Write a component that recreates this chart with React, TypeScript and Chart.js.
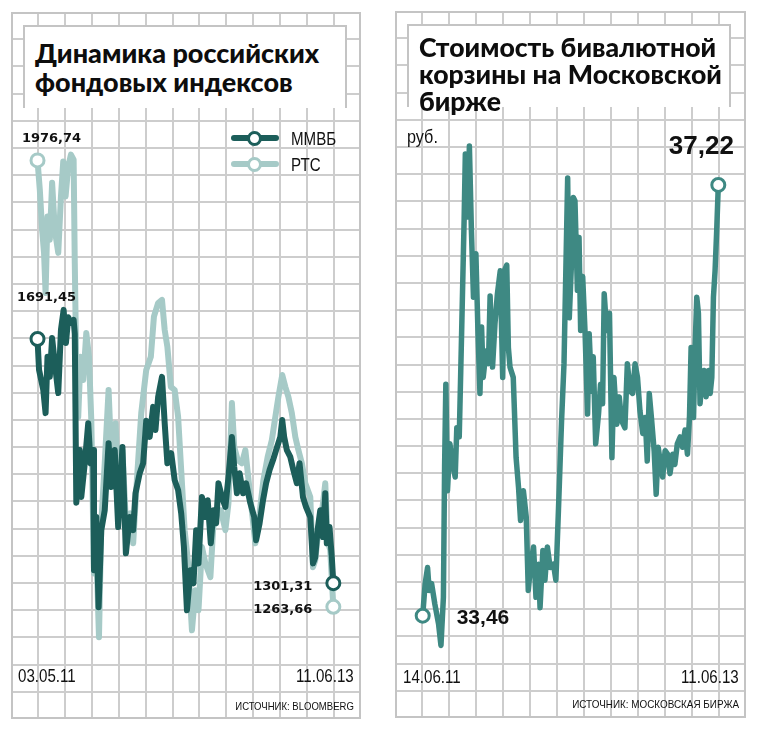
import { useEffect, useRef } from "react";
import { Chart, registerables } from "chart.js";

Chart.register(...registerables);

// Индексы: день от 03.05.11, значение
const mmvbDays = [0, 4, 15, 21, 26, 32, 38, 45, 54, 61, 68, 74, 80, 87, 94, 97, 101, 110, 114, 123, 132, 138, 145, 147, 153, 159, 166, 175, 185, 192, 201, 210, 221, 230, 240, 249, 255, 266, 275, 283, 292, 301, 307, 314, 324, 331, 338, 348, 357, 366, 374, 381, 389, 398, 406, 413, 419, 428, 437, 443, 451, 458, 465, 471, 480, 489, 497, 506, 512, 519, 526, 535, 543, 554, 564, 569, 578, 587, 595, 604, 613, 621, 632, 637, 642, 649, 658, 666, 675, 682, 691, 699, 710, 717, 723, 729, 736, 743, 749, 753, 760, 766, 770];
const mmvbValues = [1691.45, 1642, 1610, 1573, 1663, 1631, 1693, 1653, 1605, 1706, 1738, 1685, 1726, 1717, 1722, 1700, 1430, 1514, 1439, 1493, 1557, 1493, 1514, 1322, 1407, 1263, 1386, 1418, 1525, 1455, 1514, 1391, 1519, 1349, 1407, 1386, 1445, 1477, 1493, 1561, 1535, 1583, 1546, 1599, 1631, 1557, 1493, 1509, 1466, 1450, 1413, 1360, 1258, 1322, 1301, 1386, 1333, 1439, 1407, 1434, 1365, 1418, 1397, 1461, 1439, 1423, 1471, 1535, 1487, 1445, 1477, 1445, 1461, 1429, 1407, 1370, 1397, 1434, 1461, 1482, 1498, 1514, 1535, 1562, 1535, 1514, 1503, 1482, 1461, 1493, 1439, 1423, 1407, 1333, 1343, 1386, 1418, 1375, 1445, 1365, 1391, 1343, 1301.31];

const rtsDays = [0, 6, 12, 17, 21, 26, 32, 38, 45, 54, 61, 67, 73, 80, 87, 94, 97, 101, 106, 112, 119, 127, 134, 140, 147, 153, 160, 166, 175, 185, 192, 203, 210, 221, 231, 242, 249, 257, 270, 283, 295, 303, 314, 324, 331, 338, 347, 357, 366, 374, 383, 392, 402, 411, 419, 428, 437, 450, 458, 467, 477, 489, 497, 506, 512, 521, 532, 541, 554, 567, 578, 588, 599, 610, 619, 627, 637, 645, 653, 662, 671, 679, 688, 697, 710, 717, 723, 731, 740, 749, 755, 762, 770];
const rtsValues = [1976.74, 1930, 1866, 1829, 1765, 1887, 1850, 1941, 1866, 1829, 1919, 1975, 1919, 1967, 1986, 1978, 1813, 1642, 1567, 1663, 1626, 1701, 1663, 1562, 1317, 1359, 1215, 1397, 1493, 1610, 1503, 1557, 1466, 1514, 1386, 1413, 1365, 1450, 1573, 1642, 1663, 1727, 1749, 1754, 1706, 1679, 1615, 1610, 1567, 1482, 1386, 1333, 1226, 1290, 1258, 1359, 1333, 1311, 1397, 1418, 1418, 1386, 1429, 1589, 1519, 1498, 1493, 1514, 1439, 1365, 1413, 1466, 1503, 1530, 1567, 1599, 1634, 1615, 1599, 1573, 1535, 1514, 1493, 1461, 1439, 1327, 1338, 1386, 1413, 1461, 1370, 1354, 1263.66];

// Бивалютная корзина: день от 14.06.11, руб.
const basketDays = [0, 6, 12, 16, 22, 30, 39, 45, 51, 54, 57, 61, 67, 74, 80, 84, 90, 96, 102, 105, 110, 115, 120, 125, 131, 136, 141, 145, 149, 156, 162, 166, 172, 178, 184, 191, 197, 201, 207, 211, 215, 223, 230, 236, 241, 248, 255, 260, 266, 273, 279, 285, 289, 296, 301, 307, 314, 322, 328, 334, 342, 348, 353, 357, 361, 367, 371, 375, 381, 385, 389, 394, 400, 406, 410, 416, 420, 426, 433, 438, 443, 447, 453, 460, 466, 471, 478, 484, 490, 498, 504, 511, 517, 523, 529, 535, 542, 548, 553, 558, 564, 570, 575, 580, 586, 591, 597, 603, 609, 616, 621, 627, 634, 640, 646, 652, 657, 661, 667, 671, 675, 679, 683, 687, 693, 698, 704, 708, 712, 716, 720, 724, 728];
const basketValues = [33.46, 33.74, 33.88, 33.68, 33.74, 33.56, 33.39, 33.2, 33.62, 34.78, 35.48, 34.55, 34.96, 34.78, 34.67, 35.1, 35.02, 35.95, 36.91, 37.49, 36.94, 37.56, 36.82, 36.24, 36.62, 35.95, 35.4, 35.98, 35.54, 35.77, 35.66, 36.25, 35.63, 36.01, 36.27, 36.47, 35.54, 36.47, 36.52, 35.8, 35.63, 35.54, 34.84, 34.58, 34.29, 34.55, 34.32, 33.68, 33.91, 34.06, 33.62, 33.91, 33.53, 34.03, 33.77, 34.06, 33.88, 33.91, 33.77, 34.35, 35.16, 35.66, 36.56, 37.28, 36.06, 36.59, 37.11, 37.08, 36.3, 36.76, 35.95, 36.42, 35.92, 35.22, 35.92, 35.42, 35.72, 34.96, 35.22, 35.48, 35.31, 36.27, 35.95, 36.1, 34.84, 35.54, 35.13, 35.37, 35.16, 35.1, 35.66, 35.42, 35.4, 35.66, 35.54, 35.25, 35.05, 35.19, 34.81, 35.4, 35.16, 34.9, 34.52, 34.93, 34.78, 34.67, 34.9, 34.87, 34.7, 34.87, 34.78, 34.96, 35.02, 34.93, 35.08, 34.87, 35.19, 35.8, 35.19, 35.83, 36.24, 36.1, 35.31, 35.48, 35.6, 35.37, 35.6, 35.4, 35.54, 36.24, 36.47, 36.82, 37.22];

const leftDates = ["03.05.11", "11.06.13"];
const rightDates = ["14.06.11", "11.06.13"];

const DARK = "#1c5e5a";
const LIGHT = "#a6cac7";
const BASKET = "#3e8983";
const GRID = "#cdcdcd";
const SANS = '"Liberation Sans", Arial, sans-serif';
const TITLE = 'Lato, "DejaVu Sans", sans-serif';

const fmt = (v: number) => v.toFixed(2).replace(".", ",");

const toPoints = (days: number[], values: number[]) =>
  days.map((d, i) => ({ x: d, y: values[i] }));

type LabelItem = { dataset: number; last: boolean; font: string; align: CanvasTextAlign; dx: number; dy: number };

const valueLabels = {
  id: "valueLabels",
  afterDatasetsDraw(chart: any, _args: any, opts: any) {
    const { ctx } = chart;
    (opts.items || []).forEach((item: LabelItem) => {
      const meta = chart.getDatasetMeta(item.dataset);
      const data = chart.data.datasets[item.dataset].data;
      const idx = item.last ? data.length - 1 : 0;
      const pt = meta.data[idx];
      ctx.save();
      ctx.font = item.font;
      ctx.fillStyle = "#111";
      ctx.textAlign = item.align;
      ctx.textBaseline = "middle";
      ctx.fillText(fmt(data[idx].y), pt.x + item.dx, pt.y + item.dy);
      ctx.restore();
    });
  },
};

function endsOnly(ctx: any) {
  const n = ctx.dataset.data.length;
  return ctx.dataIndex === 0 || ctx.dataIndex === n - 1 ? 6.5 : 0;
}

function lineDataset(label: string, points: any[], color: string, width: number) {
  return {
    label,
    data: points,
    borderColor: color,
    borderWidth: width,
    borderJoinStyle: "round" as const,
    borderCapStyle: "round" as const,
    tension: 0,
    pointRadius: endsOnly,
    pointHoverRadius: endsOnly,
    pointBorderWidth: 3,
    pointBorderColor: color,
    pointBackgroundColor: "#fff",
  };
}

function gridScales() {
  const common = {
    type: "linear" as const,
    ticks: { display: false, stepSize: 1 },
    grid: { color: GRID, lineWidth: 2, drawTicks: false },
    border: { display: false },
  };
  return {
    gx: { ...common, axis: "x" as const, position: "bottom" as const, min: 0, max: 13 },
    gy: { ...common, axis: "y" as const, position: "left" as const, min: 0, max: 26 },
  };
}

function ChartPanel({ datasets, xRange, yRange, labels }: any) {
  const chartRef = useRef<HTMLCanvasElement>(null);
  const chartInstance = useRef<Chart | null>(null);

  useEffect(() => {
    if (!chartRef.current) return;
    if (chartInstance.current) chartInstance.current.destroy();
    const ctx = chartRef.current.getContext("2d");
    if (!ctx) return;

    chartInstance.current = new Chart(ctx, {
      type: "line",
      data: { datasets },
      options: {
        animation: false,
        responsive: true,
        maintainAspectRatio: false,
        layout: { padding: 0, autoPadding: false },
        plugins: {
          legend: { display: false },
          tooltip: { enabled: false },
          valueLabels: { items: labels },
        } as any,
        scales: {
          x: { type: "linear", min: xRange[0], max: xRange[1], display: false },
          y: { type: "linear", min: yRange[0], max: yRange[1], display: false },
          ...gridScales(),
        } as any,
      },
      plugins: [valueLabels],
    });

    return () => {
      if (chartInstance.current) {
        chartInstance.current.destroy();
        chartInstance.current = null;
      }
    };
  }, []);

  return (
    <div style={{ position: "absolute", inset: 0 }}>
      <canvas ref={chartRef} />
    </div>
  );
}

// narrow text: regular sans squeezed horizontally
function Narrow({ children, x, y, size, align = "left", squeeze = 0.84 }: any) {
  const pos = align === "left" ? { left: x } : { right: x };
  return (
    <div
      style={{
        position: "absolute",
        ...pos,
        top: y,
        whiteSpace: "nowrap",
        color: "#111",
        lineHeight: 1,
        font: `${size}px ${SANS}`,
        transform: `translateY(-50%) scaleX(${squeeze})`,
        transformOrigin: align === "left" ? "left center" : "right center",
      }}
    >
      {children}
    </div>
  );
}

function TitleBox({ lines, lineHeight, top, size }: { lines: string[]; lineHeight: number; top: number; size: number }) {
  return (
    <div
      style={{
        position: "absolute",
        left: 12,
        top: 13,
        width: 324,
        height: 83,
        background: "#fff",
        borderTop: "2px solid #c4c4c4",
        borderLeft: "2px solid #c4c4c4",
        borderRight: "2px solid #c4c4c4",
        boxSizing: "border-box",
      }}
    >
      <div
        style={{
          position: "absolute",
          left: 10,
          top,
          font: `900 ${size}px ${TITLE}`,
          lineHeight: `${lineHeight}px`,
          color: "#0d0d0d",
          whiteSpace: "nowrap",
        }}
      >
        {lines.map((l) => (
          <div key={l}>{l}</div>
        ))}
      </div>
    </div>
  );
}

function LegendItem({ color, text, y }: { color: string; text: string; y: number }) {
  return (
    <>
      <div style={{ position: "absolute", left: 220, top: y - 3, width: 48, height: 6, borderRadius: 3, background: color }} />
      <div
        style={{
          position: "absolute",
          left: 236,
          top: y - 7.5,
          width: 15,
          height: 15,
          borderRadius: "50%",
          border: `3px solid ${color}`,
          background: "#fff",
          boxSizing: "border-box",
        }}
      />
      <Narrow x={280} y={y + 1} size={18}>{text}</Narrow>
    </>
  );
}

const panelFrame = {
  position: "absolute" as const,
  inset: 0,
  border: "2px solid #c4c4c4",
  boxSizing: "border-box" as const,
  pointerEvents: "none" as const,
};

export default function App() {
  const leftSets = [
    lineDataset("ММВБ", toPoints(mmvbDays, mmvbValues), DARK, 6),
    lineDataset("РТС", toPoints(rtsDays, rtsValues), LIGHT, 6),
  ];
  const rightSets = [lineDataset("Бивалютная корзина", toPoints(basketDays, basketValues), BASKET, 5.5)];

  const smallBold = `bold 13px "DejaVu Sans", sans-serif`;
  const leftLabels: LabelItem[] = [
    { dataset: 1, last: false, font: smallBold, align: "center", dx: 14, dy: -22 },
    { dataset: 0, last: false, font: smallBold, align: "center", dx: 9, dy: -41 },
    { dataset: 0, last: true, font: smallBold, align: "right", dx: -21, dy: 3 },
    { dataset: 1, last: true, font: smallBold, align: "right", dx: -21, dy: 3 },
  ];
  const rightLabels: LabelItem[] = [
    { dataset: 0, last: false, font: `bold 21px ${SANS}`, align: "left", dx: 34, dy: 3 },
    { dataset: 0, last: true, font: `bold 26px ${SANS}`, align: "center", dx: -17, dy: -38 },
  ];

  return (
    <div style={{ position: "relative", width: 742, height: 716 }}>
      <div style={{ position: "absolute", left: 3, top: 4, width: 350, height: 707 }}>
        <ChartPanel datasets={leftSets} xRange={[-69, 842]} yRange={[1084.4, 2213.8]} labels={leftLabels} />
        <div style={panelFrame} />
        <TitleBox lines={["Динамика российских", "фондовых индексов"]} lineHeight={29} top={11} size={27} />
        <LegendItem color={DARK} text="ММВБ" y={126} />
        <LegendItem color={LIGHT} text="РТС" y={152} />
        <Narrow x={7} y={664} size={18}>{leftDates[0]}</Narrow>
        <Narrow x={7} y={664} size={18} align="right">{leftDates[1]}</Narrow>
        <Narrow x={7} y={694} size={11.5} align="right" squeeze={0.83}>ИСТОЧНИК: BLOOMBERG</Narrow>
      </div>

      <div style={{ position: "absolute", left: 387, top: 3, width: 351, height: 707 }}>
        <ChartPanel datasets={rightSets} xRange={[-68.2, 796.2]} yRange={[32.567, 38.738]} labels={rightLabels} />
        <div style={panelFrame} />
        <TitleBox lines={["Стоимость бивалютной", "корзины на Московской", "бирже"]} lineHeight={27} top={8} size={26.6} />
        <Narrow x={12} y={126} size={18} squeeze={0.9}>руб.</Narrow>
        <Narrow x={8} y={666} size={18}>{rightDates[0]}</Narrow>
        <Narrow x={7} y={666} size={18} align="right">{rightDates[1]}</Narrow>
        <Narrow x={7} y={693} size={11.5} align="right" squeeze={0.86}>ИСТОЧНИК: МОСКОВСКАЯ БИРЖА</Narrow>
      </div>
    </div>
  );
}
